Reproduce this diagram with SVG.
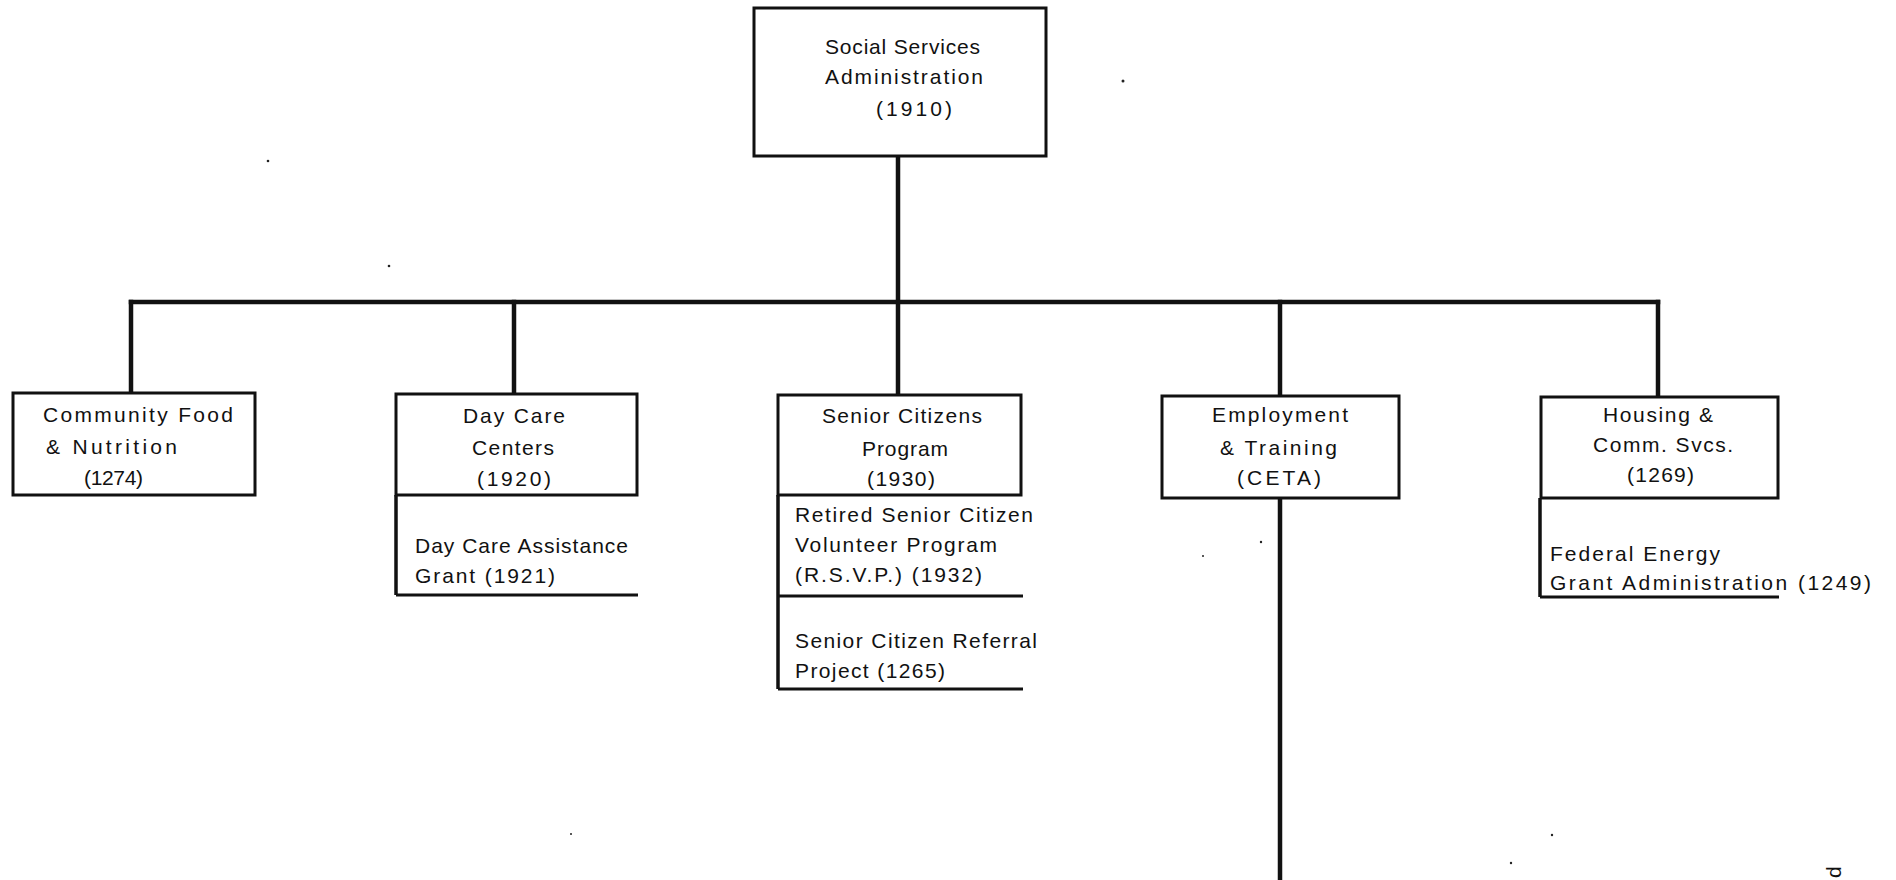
<svg xmlns="http://www.w3.org/2000/svg" width="1896" height="880" viewBox="0 0 1896 880">
<style>
  .box { fill: #ffffff; stroke: #111111; stroke-width: 3; }
  .con { fill: none; stroke: #111111; stroke-width: 4.5; stroke-linecap: square; }
  .sub { fill: none; stroke: #111111; stroke-width: 3; }
  .subv { fill: none; stroke: #111111; stroke-width: 3.5; }
  text { font-family: "Liberation Sans", Arial, sans-serif; font-size: 21px; fill: #111111; }
  .speck { fill: #222222; }
</style>
<rect width="1896" height="880" fill="#ffffff"/>

<g id="connectors">
  <line class="con" x1="898" y1="157" x2="898" y2="395"/>
  <line class="con" x1="131" y1="302" x2="1658" y2="302"/>
  <line class="con" x1="131" y1="302" x2="131" y2="393"/>
  <line class="con" x1="514" y1="302" x2="514" y2="394"/>
  <line class="con" x1="1280" y1="302" x2="1280" y2="396"/>
  <line class="con" x1="1658" y1="302" x2="1658" y2="397"/>
  <line class="con" x1="1280" y1="498" x2="1280" y2="882"/>
</g>

<g id="node-ssa">
  <rect class="box" x="754" y="8" width="292" height="148"/>
  <text x="825" y="54" textLength="155" lengthAdjust="spacing">Social Services</text>
  <text x="825" y="84" textLength="158" lengthAdjust="spacing">Administration</text>
  <text x="876" y="116" textLength="76" lengthAdjust="spacing">(1910)</text>
</g>

<g id="node-food">
  <rect class="box" x="13" y="393" width="242" height="102"/>
  <text x="43" y="422" textLength="190" lengthAdjust="spacing">Community Food</text>
  <text x="46" y="454" textLength="131" lengthAdjust="spacing">&amp; Nutrition</text>
  <text x="84" y="485" textLength="59" lengthAdjust="spacing">(1274)</text>
</g>

<g id="node-daycare">
  <rect class="box" x="396" y="394" width="241" height="101"/>
  <text x="463" y="423" textLength="102" lengthAdjust="spacing">Day Care</text>
  <text x="472" y="455" textLength="82" lengthAdjust="spacing">Centers</text>
  <text x="477" y="486" textLength="74" lengthAdjust="spacing">(1920)</text>
</g>

<g id="node-daycare-grant">
  <path class="subv" d="M396 495 V595"/>
  <path class="sub" d="M396 595 H638"/>
  <text x="415" y="553" textLength="213" lengthAdjust="spacing">Day Care Assistance</text>
  <text x="415" y="583" textLength="140" lengthAdjust="spacing">Grant (1921)</text>
</g>

<g id="node-senior">
  <rect class="box" x="778" y="395" width="243" height="100"/>
  <text x="822" y="423" textLength="160" lengthAdjust="spacing">Senior Citizens</text>
  <text x="862" y="456" textLength="86" lengthAdjust="spacing">Program</text>
  <text x="867" y="486" textLength="68" lengthAdjust="spacing">(1930)</text>
</g>

<g id="node-rsvp">
  <path class="subv" d="M778 495 V596"/>
  <path class="sub" d="M778 596 H1023"/>
  <text x="795" y="522" textLength="238" lengthAdjust="spacing">Retired Senior Citizen</text>
  <text x="795" y="552" textLength="202" lengthAdjust="spacing">Volunteer Program</text>
  <text x="795" y="582" textLength="187" lengthAdjust="spacing">(R.S.V.P.) (1932)</text>
</g>

<g id="node-referral">
  <path class="subv" d="M778 596 V689"/>
  <path class="sub" d="M778 689 H1023"/>
  <text x="795" y="648" textLength="242" lengthAdjust="spacing">Senior Citizen Referral</text>
  <text x="795" y="678" textLength="150" lengthAdjust="spacing">Project (1265)</text>
</g>

<g id="node-employment">
  <rect class="box" x="1162" y="396" width="237" height="102"/>
  <text x="1212" y="422" textLength="136" lengthAdjust="spacing">Employment</text>
  <text x="1220" y="455" textLength="117" lengthAdjust="spacing">&amp; Training</text>
  <text x="1237" y="485" textLength="84" lengthAdjust="spacing">(CETA)</text>
</g>

<g id="node-housing">
  <rect class="box" x="1541" y="397" width="237" height="101"/>
  <text x="1603" y="422" textLength="110" lengthAdjust="spacing">Housing &amp;</text>
  <text x="1593" y="452" textLength="140" lengthAdjust="spacing">Comm. Svcs.</text>
  <text x="1627" y="482" textLength="67" lengthAdjust="spacing">(1269)</text>
</g>

<g id="node-energy">
  <path class="subv" d="M1540 498 V597"/>
  <path class="sub" d="M1540 597 H1779"/>
  <text x="1550" y="561" textLength="170" lengthAdjust="spacing">Federal Energy</text>
  <text x="1550" y="590" textLength="321" lengthAdjust="spacing">Grant Administration (1249)</text>
</g>

<g id="marks">
  <circle class="speck" cx="1123" cy="81" r="1.5"/>
  <circle class="speck" cx="268" cy="161" r="1.3"/>
  <circle class="speck" cx="389" cy="266" r="1.3"/>
  <circle class="speck" cx="1261" cy="542" r="1.2"/>
  <circle class="speck" cx="1203" cy="556" r="1"/>
  <circle class="speck" cx="571" cy="834" r="1"/>
  <circle class="speck" cx="1552" cy="835" r="1.2"/>
  <circle class="speck" cx="1511" cy="863" r="1.2"/>
  <text x="0" y="0" font-size="18" transform="translate(1841 878) rotate(-90)">d</text>
</g>
</svg>
